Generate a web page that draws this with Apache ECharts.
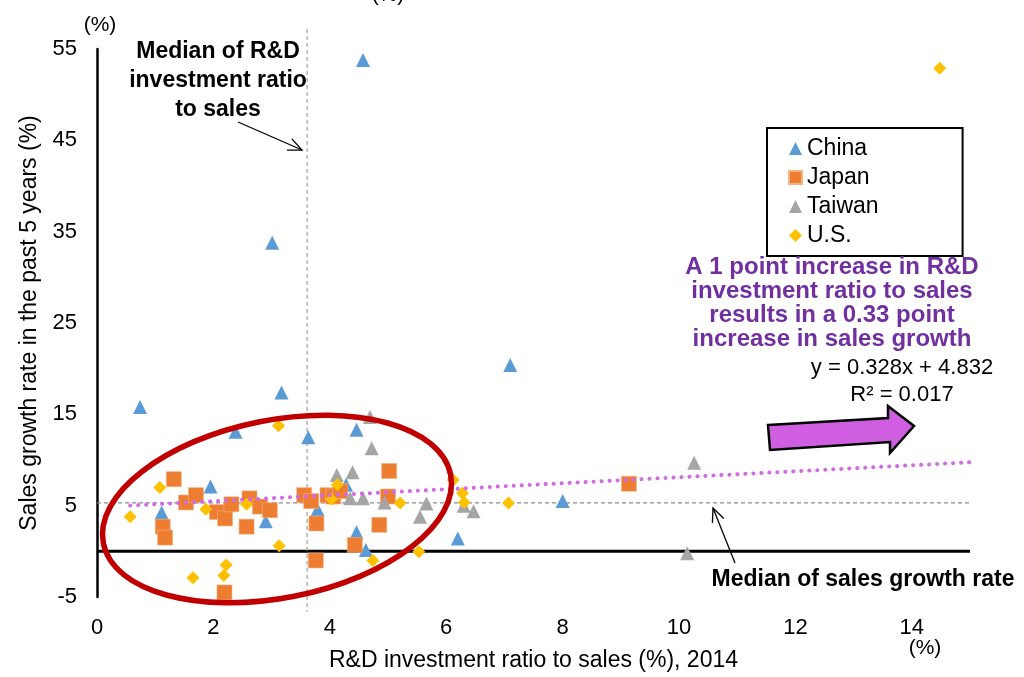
<!DOCTYPE html>
<html>
<head>
<meta charset="utf-8">
<script src="https://cdn.jsdelivr.net/npm/echarts@6/dist/echarts.min.js"></script>
<style>
html,body{margin:0;padding:0;background:#fff;}
#c{width:1024px;height:677px;}
</style>
</head>
<body>
<div id="c"></div>
<script>
// ---- data ----
const chinaPts = [[0.74,15.8],[1.11,4.25],[1.95,7.1],[2.38,13.1],[2.9,3.3],[3.01,33.8],[3.17,17.4],[3.63,12.5],[3.79,4.6],[4.28,7.3],[4.46,13.3],[4.46,2.1],[4.57,53.8],[4.62,0.15],[6.2,1.4],[7.1,20.4],[8.0,5.5]];
const japanPts = [[1.13,2.7],[1.17,1.5],[1.32,7.9],[1.53,5.35],[1.70,6.15],[2.06,4.3],[2.19,-4.5],[2.2,3.6],[2.31,5.15],[2.57,2.7],[2.62,5.8],[2.80,4.9],[2.97,4.5],[3.56,6.15],[3.68,5.5],[3.76,-1.0],[3.77,3.05],[3.96,6.15],[4.06,6.0],[4.18,6.6],[4.43,0.7],[4.85,2.9],[5.0,6.0],[5.02,8.8],[9.14,7.4]];
const taiwanPts = [[4.12,8.35],[4.35,5.8],[4.39,8.65],[4.57,5.8],[4.69,14.7],[4.72,11.3],[4.94,5.35],[5.55,3.8],[5.66,5.25],[6.3,5.0],[6.47,4.4],[10.14,-0.2],[10.26,9.7]];
const usPts = [[0.57,3.8],[1.08,7.0],[1.65,-2.9],[1.87,4.6],[2.18,-2.65],[2.22,-1.5],[2.57,5.15],[3.12,13.75],[3.13,0.6],[4.03,5.7],[4.13,7.3],[4.74,-1.0],[5.21,5.3],[5.53,-0.05],[6.12,7.8],[6.28,6.35],[6.31,5.35],[7.07,5.3],[14.48,52.9]];
const trendPts = [[0.57,5.02],[15,9.75]];          // y = 0.328x + 4.832
const medianXPts = [[3.61,57.2],[3.61,-6.6]];       // median of R&D ratio
const medianYPts = [[0,5.3],[15.2,5.3]];            // median of sales growth
const zeroLinePts = [[0,0],[15,0]];
const seriesNames = ['China','Japan','Taiwan','U.S.'];
const xTicks = [0,2,4,6,8,10,12,14];
const yTicks = [-5,5,15,25,35,45,55];

const FONT = "'Liberation Sans', Arial, sans-serif";
const chart = echarts.init(document.getElementById('c'), null, {renderer:'canvas'});

function arrow(x1,y1,x2,y2,len,ang){
  const a = Math.atan2(y2-y1,x2-x1);
  const p1 = [x2 - len*Math.cos(a-ang), y2 - len*Math.sin(a-ang)];
  const p2 = [x2 - len*Math.cos(a+ang), y2 - len*Math.sin(a+ang)];
  return [
    {type:'line', z:100, shape:{x1:x1,y1:y1,x2:x2,y2:y2}, style:{stroke:'#000',lineWidth:1.3}},
    {type:'polyline', z:100, shape:{points:[p1,[x2,y2],p2]}, style:{stroke:'#000',lineWidth:1.3,fill:null}}
  ];
}

const option = {
  backgroundColor:'#fff',
  animation:false,
  grid:{left:97,right:54,top:49,bottom:80,containLabel:false},
  xAxis:{
    type:'value', min:0, max:15, interval:1,
    name:'R&D investment ratio to sales (%), 2014',
    nameLocation:'middle', nameGap:52,
    nameTextStyle:{fontFamily:FONT,fontSize:23,color:'#000'},
    axisLine:{show:false,onZero:false},
    axisTick:{show:false},
    splitLine:{show:false},
    axisLabel:{fontFamily:FONT,fontSize:22,color:'#000',margin:20,
      formatter:function(v){return xTicks.indexOf(v)>=0 ? String(v) : '';}}
  },
  yAxis:{
    type:'value', min:-5, max:55, interval:5,
    name:'Sales growth rate in the past 5 years (%)',
    nameLocation:'middle', nameGap:52, nameRotate:90,
    nameTextStyle:{fontFamily:FONT,fontSize:23,color:'#000'},
    axisLine:{show:true,onZero:false,lineStyle:{color:'#000',width:2.5}},
    axisTick:{show:false},
    splitLine:{show:false},
    axisLabel:{fontFamily:FONT,fontSize:22,color:'#000',margin:20,
      formatter:function(v){return yTicks.indexOf(v)>=0 ? String(v) : '';}}
  },
  legend:{
    data:seriesNames,
    orient:'vertical',
    left:767, top:128,
    padding:[9,84,9,21],
    itemGap:6, itemWidth:13, itemHeight:13, itemTextGap:15,
    borderColor:'#000', borderWidth:2,
    textStyle:{fontFamily:FONT,fontSize:23,color:'#000',lineHeight:22}
  },
  series:[
    {type:'line', name:'zero', data:zeroLinePts, showSymbol:false, silent:true, z:1,
      lineStyle:{color:'#000',width:3}},
    {type:'line', name:'medianX', data:medianXPts, showSymbol:false, silent:true, clip:false, z:1,
      lineStyle:{color:'#8c8c8c',width:1,type:[4,3]}},
    {type:'line', name:'medianY', data:medianYPts, showSymbol:false, silent:true, clip:false, z:1,
      lineStyle:{color:'#8c8c8c',width:1.2,type:[4,3]}},
    {type:'scatter', name:'China', data:chinaPts, symbol:'triangle', symbolSize:14,
      itemStyle:{color:'#5B9BD5',opacity:1}},
    {type:'scatter', name:'Japan', data:japanPts, symbol:'rect', symbolSize:15,
      itemStyle:{color:'#ED7D31',borderColor:'#F4B183',borderWidth:0.6,opacity:1}},
    {type:'scatter', name:'Taiwan', data:taiwanPts, symbol:'triangle', symbolSize:14,
      itemStyle:{color:'#A5A5A5',opacity:1}},
    {type:'scatter', name:'U.S.', data:usPts, symbol:'diamond', symbolSize:13,
      itemStyle:{color:'#FFC000',opacity:1}},
    {type:'line', name:'trend', data:trendPts, showSymbol:false, silent:true, z:5,
      lineStyle:{color:'#D36BE6',width:4,type:[0.1,7.9],cap:'round'}}
  ],
  graphic:[
    {type:'ellipse', z:100, x:277, y:509, rotation:0.195,
      shape:{cx:0,cy:0,rx:177,ry:89},
      style:{stroke:'#C00000',lineWidth:5.5,fill:null}},
    {type:'polygon', z:100,
      shape:{points:[[768,425],[888,418],[888,406],[914,426],[890,453],[890,442],[770,450]]},
      style:{fill:'#CF5FE0',stroke:'#000',lineWidth:2.5}},
    {type:'text', z:100, x:218, y:81,
      style:{text:'Median of R&D\ninvestment ratio\nto sales', fontFamily:FONT, fontWeight:'bold',
        fontSize:23, lineHeight:29, fill:'#000', align:'center', verticalAlign:'middle'}},
    {type:'text', z:100, x:863, y:580,
      style:{text:'Median of sales growth rate', fontFamily:FONT, fontWeight:'bold',
        fontSize:23, fill:'#000', align:'center', verticalAlign:'middle'}},
    {type:'text', z:100, x:832, y:303,
      style:{text:'A 1 point increase in R&D\ninvestment ratio to sales\nresults in a 0.33 point\nincrease in sales growth',
        fontFamily:FONT, fontWeight:'bold', fontSize:24, lineHeight:24, fill:'#7030A0',
        align:'center', verticalAlign:'middle'}},
    {type:'text', z:100, x:902, y:381,
      style:{text:'y = 0.328x + 4.832\nR² = 0.017', fontFamily:FONT, fontSize:22, lineHeight:27,
        fill:'#000', align:'center', verticalAlign:'middle'}},
    {type:'text', z:100, x:100, y:25,
      style:{text:'(%)', fontFamily:FONT, fontSize:21, fill:'#000', align:'center', verticalAlign:'middle'}},
    {type:'text', z:100, x:925, y:648,
      style:{text:'(%)', fontFamily:FONT, fontSize:21, fill:'#000', align:'center', verticalAlign:'middle'}},
    {type:'text', z:100, x:388, y:-5,
      style:{text:'(%)', fontFamily:FONT, fontSize:21, fill:'#000', align:'center', verticalAlign:'middle'}}
  ].concat(arrow(238,122,302,150,15,0.42)).concat(arrow(735,563,713,508,15,0.42))
};
chart.setOption(option);
</script>
</body>
</html>
